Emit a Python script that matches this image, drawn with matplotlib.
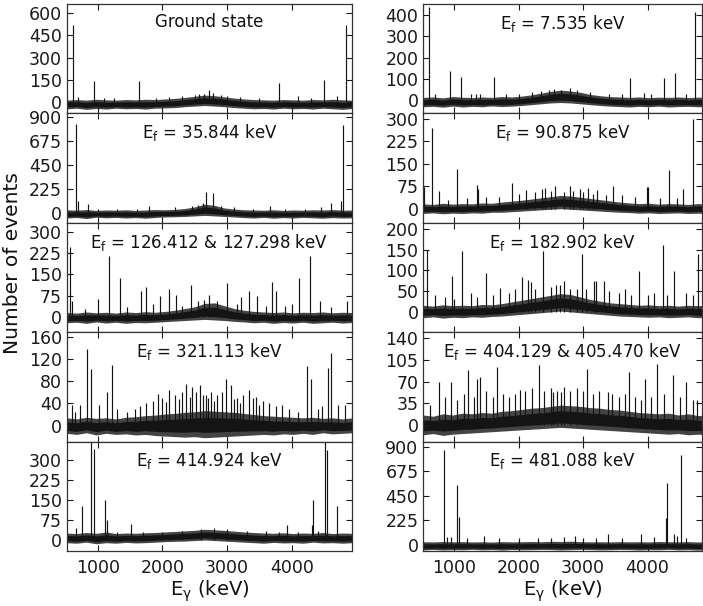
import numpy as np
import matplotlib
matplotlib.use("Agg")
import matplotlib.pyplot as plt

plt.rcParams['font.family'] = ['DejaVu Sans']
plt.rcParams['mathtext.fontset'] = 'dejavusans'

# ---------------- data ----------------
x_ticks = [1000, 2000, 3000, 4000]
xlim_left = (520, 4935)
xlim_right = (520, 4840)

titles_left = ["Ground state",
               r"E$_\mathregular{f}$ = 35.844 keV",
               r"E$_\mathregular{f}$ = 126.412 & 127.298 keV",
               r"E$_\mathregular{f}$ = 321.113 keV",
               r"E$_\mathregular{f}$ = 414.924 keV"]
titles_right = [r"E$_\mathregular{f}$ = 7.535 keV",
                r"E$_\mathregular{f}$ = 90.875 keV",
                r"E$_\mathregular{f}$ = 182.902 keV",
                r"E$_\mathregular{f}$ = 404.129 & 405.470 keV",
                r"E$_\mathregular{f}$ = 481.088 keV"]

yticks_L = [[0, 150, 300, 450, 600], [0, 225, 450, 675, 900], [0, 75, 150, 225, 300],
            [0, 40, 80, 120, 160], [0, 75, 150, 225, 300]]
yticks_R = [[0, 100, 200, 300, 400], [0, 75, 150, 225, 300], [0, 50, 100, 150, 200],
            [0, 35, 70, 105, 140], [0, 225, 450, 675, 900]]
ylims_L = [(-75, 660), (-95, 938), (-53, 331), (-29, 169), (-41, 367)]
ylims_R = [(-61, 452), (-47, 317), (-49, 215), (-27, 150), (-55, 949)]

# noise band envelopes (30 samples spread across the energy range)
L1_hi = [15, 18, 14, 20, 16, 14, 18, 16, 20, 18, 22, 26, 32, 40, 48, 44, 36, 28, 22, 18, 16, 14, 18, 16, 14, 18, 16, 20, 16, 14]
L1_lo = [-45, -40, -48, -42, -46, -40, -44, -42, -46, -40, -38, -36, -30, -26, -22, -26, -30, -36, -40, -44, -42, -46, -40, -44, -42, -46, -40, -44, -48, -42]
L2_hi = [28, 24, 30, 22, 26, 24, 28, 22, 26, 30, 28, 32, 40, 55, 80, 70, 45, 35, 28, 26, 24, 28, 22, 26, 24, 28, 26, 30, 24, 26]
L2_lo = [-50, -45, -55, -42, -48, -44, -50, -46, -52, -44, -40, -38, -35, -30, -25, -30, -35, -40, -46, -50, -44, -52, -46, -50, -44, -48, -52, -46, -50, -48]
L3_hi = [16, 14, 18, 15, 17, 14, 18, 16, 19, 17, 20, 24, 30, 36, 48, 50, 40, 30, 24, 20, 18, 16, 18, 15, 17, 16, 18, 15, 17, 16]
L3_lo = [-20, -18, -22, -17, -21, -18, -22, -19, -20, -18, -16, -14, -12, -10, -8, -10, -12, -15, -17, -20, -18, -22, -19, -21, -18, -22, -20, -18, -21, -19]
L4_hi = [14, 12, 15, 13, 14, 12, 15, 16, 18, 19, 21, 22, 24, 25, 27, 26, 25, 24, 22, 20, 18, 17, 16, 15, 14, 15, 13, 14, 12, 14]
L4_lo = [-14, -16, -13, -17, -14, -16, -15, -17, -16, -18, -19, -20, -21, -20, -22, -21, -20, -19, -18, -17, -16, -17, -15, -16, -14, -16, -13, -15, -14, -13]
L5_hi = [26, 24, 28, 25, 30, 24, 26, 25, 27, 28, 30, 32, 34, 36, 40, 38, 36, 33, 30, 28, 26, 25, 27, 24, 26, 25, 28, 24, 26, 25]
L5_lo = [-10, -12, -8, -14, -10, -12, -9, -11, -10, -8, -6, -5, -4, -2, 0, -2, -4, -6, -8, -10, -12, -9, -11, -10, -12, -8, -11, -10, -12, -10]
R1_hi = [14, 16, 12, 18, 15, 13, 16, 14, 18, 16, 20, 26, 34, 42, 48, 44, 38, 28, 22, 18, 16, 14, 16, 13, 15, 14, 16, 13, 15, 14]
R1_lo = [-30, -28, -32, -27, -31, -28, -30, -26, -29, -27, -24, -20, -16, -12, -10, -12, -16, -20, -24, -27, -29, -31, -28, -30, -27, -31, -29, -28, -30, -28]
R2_hi = [16, 14, 18, 15, 17, 16, 19, 18, 22, 25, 28, 32, 36, 40, 44, 42, 38, 34, 30, 26, 22, 19, 17, 18, 15, 17, 16, 14, 17, 15]
R2_lo = [-16, -14, -17, -15, -16, -14, -15, -12, -12, -10, -8, -6, -4, -2, 0, -2, -4, -6, -8, -10, -12, -13, -15, -14, -16, -15, -14, -16, -15, -16]
R3_hi = [16, 14, 17, 15, 16, 15, 18, 17, 20, 24, 28, 32, 36, 40, 44, 42, 36, 30, 26, 22, 20, 18, 16, 17, 15, 16, 14, 16, 15, 16]
R3_lo = [-14, -12, -15, -13, -14, -12, -13, -11, -10, -8, -6, -4, -2, 0, 2, 0, -2, -4, -6, -8, -10, -11, -12, -13, -12, -14, -13, -12, -14, -13]
R4_hi = [16, 14, 18, 16, 19, 18, 20, 19, 22, 23, 25, 27, 28, 30, 32, 31, 30, 28, 27, 25, 24, 22, 20, 19, 18, 19, 16, 18, 15, 16]
R4_lo = [-16, -14, -17, -15, -14, -13, -12, -11, -10, -9, -8, -7, -6, -5, -4, -5, -6, -7, -8, -9, -10, -11, -12, -13, -14, -15, -14, -16, -15, -16]
R5_hi = [30, 28, 32, 29, 31, 28, 30, 27, 31, 29, 30, 32, 30, 34, 32, 35, 31, 29, 30, 28, 31, 29, 30, 28, 32, 30, 29, 31, 28, 30]
R5_lo = [-45, -41, -46, -43, -44, -40, -45, -42, -47, -42, -44, -43, -41, -42, -46, -43, -40, -42, -45, -44, -41, -42, -46, -43, -44, -40, -45, -43, -47, -42]

# peaks: energies (keV) and heights (events)
L1_pE = [618, 943, 1639, 2722, 2783, 3804, 4505, 4830,
         700, 1100, 1250, 1900, 2100, 2300, 2500, 2560, 2650, 2900, 3000, 3200, 3500, 4100, 4300, 4700]
L1_pH = [520, 145, 145, 85, 60, 130, 150, 520,
         35, 30, 30, 30, 35, 40, 50, 55, 55, 50, 40, 35, 30, 40, 30, 45]
L2_pE = [660, 702, 850, 1789, 2670, 2783, 3660, 4603, 4753, 4793,
         1000, 1300, 1600, 2200, 2450, 2550, 2620, 2900, 3100, 3400, 3900, 4200, 4450]
L2_pH = [840, 115, 80, 60, 195, 190, 60, 90, 110, 830,
         40, 40, 40, 50, 60, 70, 90, 60, 50, 40, 40, 40, 50]
L3_pE = [567, 609, 1011, 1170, 1340, 1675, 1753, 1969, 2109, 2217, 2443, 2722, 3005, 3222, 3335,
         3469, 3686, 3763, 4108, 4278, 4433, 4846,
         800, 1450, 1850, 2300, 2550, 2650, 2850, 3150, 3600, 3900, 4000, 4600]
L3_pH = [245, 55, 62, 214, 138, 90, 107, 74, 97, 76, 113, 76, 118, 72, 93,
         74, 123, 90, 138, 216, 58, 55,
         30, 35, 45, 40, 55, 60, 55, 45, 40, 40, 45, 35]
L4_pE = [835, 892, 1150, 1216, 609, 723, 1025, 1938, 2109, 2371, 2458, 2577, 2670, 2979, 3057,
         3340, 3454, 4227, 4294, 4459, 4561, 4608, 4720, 4824,
         650, 1300, 1450, 1650, 1750, 1850, 2000, 2200, 2300, 2420, 2520, 2630, 2750, 2850, 2920,
         3150, 3250, 3400, 3550, 3650, 3750, 3850, 3950, 4100, 4400,
         1580, 2050, 2250, 2700, 2800, 3100, 3200, 3500]
L4_pH = [138, 103, 61, 109, 38, 38, 37, 58, 64, 76, 70, 73, 56, 85, 74,
         64, 52, 108, 84, 36, 104, 132, 38, 38,
         25, 30, 25, 35, 40, 45, 50, 55, 60, 52, 60, 55, 60, 55, 60,
         50, 55, 50, 45, 40, 35, 38, 30, 25, 30,
         30, 42, 48, 50, 45, 48, 40, 38]
L5_pE = [757, 903, 949, 1113, 1150, 1521, 4310, 4330, 4510, 4551, 4700, 660, 3925,
         1300, 1700, 2000, 2300, 2600, 2800, 3000, 3300, 3600, 3800, 4100, 4400]
L5_pH = [125, 420, 338, 150, 75, 59, 56, 150, 420, 334, 125, 44, 56,
         30, 30, 30, 35, 40, 45, 40, 35, 35, 30, 30, 35]
R1_pE = [612, 933, 1099, 1620, 1254, 1332, 2463, 2804, 3735, 3946, 4256, 4426, 4732,
         700, 1400, 1800, 2000, 2200, 2350, 2550, 2650, 2900, 3100, 3400, 3600, 4050, 4600]
R1_pH = [436, 138, 110, 110, 28, 32, 50, 60, 107, 35, 107, 129, 416,
         30, 30, 30, 30, 40, 45, 55, 50, 50, 40, 30, 30, 30, 30]
R2_pE = [535, 650, 760, 1037, 1347, 1368, 1895, 2106, 2364, 2406, 2571, 2793, 2948, 3083, 3222,
         3465, 3987, 4013, 4329, 4552, 4705,
         900, 1200, 1500, 1700, 2000, 2250, 2500, 2700, 2850, 3000, 3150, 3350, 3600, 3800, 4200, 4450]
R2_pH = [72, 270, 58, 133, 78, 64, 86, 61, 66, 69, 77, 77, 66, 69, 61,
         77, 72, 72, 130, 67, 297,
         30, 35, 40, 40, 50, 55, 60, 55, 60, 55, 50, 45, 45, 40, 35, 35]
R3_pE = [572, 960, 1115, 1256, 1487, 1709, 2045, 2148, 2190, 2375, 2638, 2700, 2980, 3171, 3207,
         3321, 3651, 3868, 4240, 4406, 4783,
         700, 850, 1000, 1350, 1600, 1850, 1950, 2250, 2500, 2580, 2800, 2900, 3050, 3400, 3550,
         3750, 4000, 4100, 4300, 4600, 4700]
R3_pH = [150, 86, 146, 46, 94, 58, 84, 76, 72, 146, 66, 74, 140, 74, 74,
         74, 56, 98, 162, 98, 140,
         40, 35, 30, 35, 40, 45, 55, 55, 60, 65, 55, 55, 55, 50, 45,
         40, 40, 45, 40, 45, 40]
R4_pE = [623, 763, 949, 1207, 1347, 1404, 1657, 2020, 2313, 2535, 2654, 3058, 3379, 3705, 3964,
         4153, 4395, 4591, 4773,
         850, 1050, 1150, 1300, 1500, 1600, 1750, 1850, 1950, 2100, 2200, 2400, 2500, 2600, 2700,
         2800, 2900, 3000, 3150, 3250, 3450, 3550, 3650, 3800, 3900, 4050, 4250, 4500, 4700]
R4_pH = [32, 70, 70, 89, 74, 78, 94, 56, 97, 53, 53, 90, 54, 86, 74,
         98, 81, 70, 40,
         45, 40, 50, 45, 55, 45, 50, 45, 50, 55, 60, 55, 60, 55, 62,
         55, 60, 55, 50, 55, 50, 45, 50, 45, 40, 45, 50, 45, 40]
R5_pE = [840, 892, 1042, 1073, 1461, 2877, 3389, 3905, 4287, 4308, 4411, 4515,
         950, 1200, 1700, 2000, 2300, 2500, 2700, 3000, 3200, 3600, 4100, 4450, 4600]
R5_pH = [876, 77, 547, 261, 83, 86, 105, 98, 252, 569, 98, 830,
         70, 60, 60, 60, 60, 60, 70, 60, 60, 60, 70, 80, 60]

left_bands = [(L1_lo, L1_hi), (L2_lo, L2_hi), (L3_lo, L3_hi), (L4_lo, L4_hi), (L5_lo, L5_hi)]
right_bands = [(R1_lo, R1_hi), (R2_lo, R2_hi), (R3_lo, R3_hi), (R4_lo, R4_hi), (R5_lo, R5_hi)]
left_peaks = [(L1_pE, L1_pH), (L2_pE, L2_pH), (L3_pE, L3_pH), (L4_pE, L4_pH), (L5_pE, L5_pH)]
right_peaks = [(R1_pE, R1_pH), (R2_pE, R2_pH), (R3_pE, R3_pH), (R4_pE, R4_pH), (R5_pE, R5_pH)]

# ---------------- figure ----------------
W, H = 703, 606
fig = plt.figure(figsize=(W / 100, H / 100), dpi=100)

col_x = [(66.7, 352.3), (423.3, 701.7)]
top_px, bot_px = 4, 551
row_h = (bot_px - top_px) / 5
ink = '#141414'


def draw_panel(ax, band, peaks, title, yt, yl, xl, last):
    lo = np.asarray(band[0], float)
    hi = np.asarray(band[1], float)
    grid = np.linspace(520, 4935, len(lo))
    # outer fuzz of the noise (grey) and dense core (black)
    ax.fill_between(grid, lo, hi, color='#444444', lw=0)
    span = hi - lo
    ax.fill_between(grid, lo + 0.2 * span, hi - 0.25 * span, color=ink, lw=0)
    pE, pH = peaks
    ax.vlines(pE, 0, pH, colors=ink, lw=0.85)
    ax.set_xlim(*xl)
    ax.set_ylim(*yl)
    ax.set_yticks(yt)
    ax.set_xticks(x_ticks)
    ax.tick_params(direction='in', top=True, right=True, length=4.5, width=0.8,
                   labelsize=12.5, colors='#1a1a1a')
    ax.tick_params(axis='x', pad=6)
    if not last:
        ax.tick_params(axis='x', labelbottom=False)
    for s in ax.spines.values():
        s.set_linewidth(0.9)
        s.set_color('#333333')
    ax.text(0.5, 0.92, title, transform=ax.transAxes, ha='center', va='top',
            fontsize=12, color='#111111')


for c in range(2):
    x0, x1 = col_x[c]
    for r in range(5):
        t = top_px + r * row_h
        b = t + row_h
        ax = fig.add_axes([x0 / W, 1 - b / H, (x1 - x0) / W, row_h / H])
        if c == 0:
            draw_panel(ax, left_bands[r], left_peaks[r], titles_left[r], yticks_L[r], ylims_L[r],
                       xlim_left, r == 4)
        else:
            draw_panel(ax, right_bands[r], right_peaks[r], titles_right[r], yticks_R[r], ylims_R[r],
                       xlim_right, r == 4)
    fig.text((x0 + x1) / 2 / W, 1 - 591 / H, r"E$_\mathregular{γ}$ (keV)", ha='center', va='center',
             fontsize=14, color='#111111')

fig.text(12.5 / W, 1 - 263 / H, "Number of events", rotation=90, ha='center', va='center',
         fontsize=14.5, color='#111111')

fig.savefig("out.png", dpi=100)
